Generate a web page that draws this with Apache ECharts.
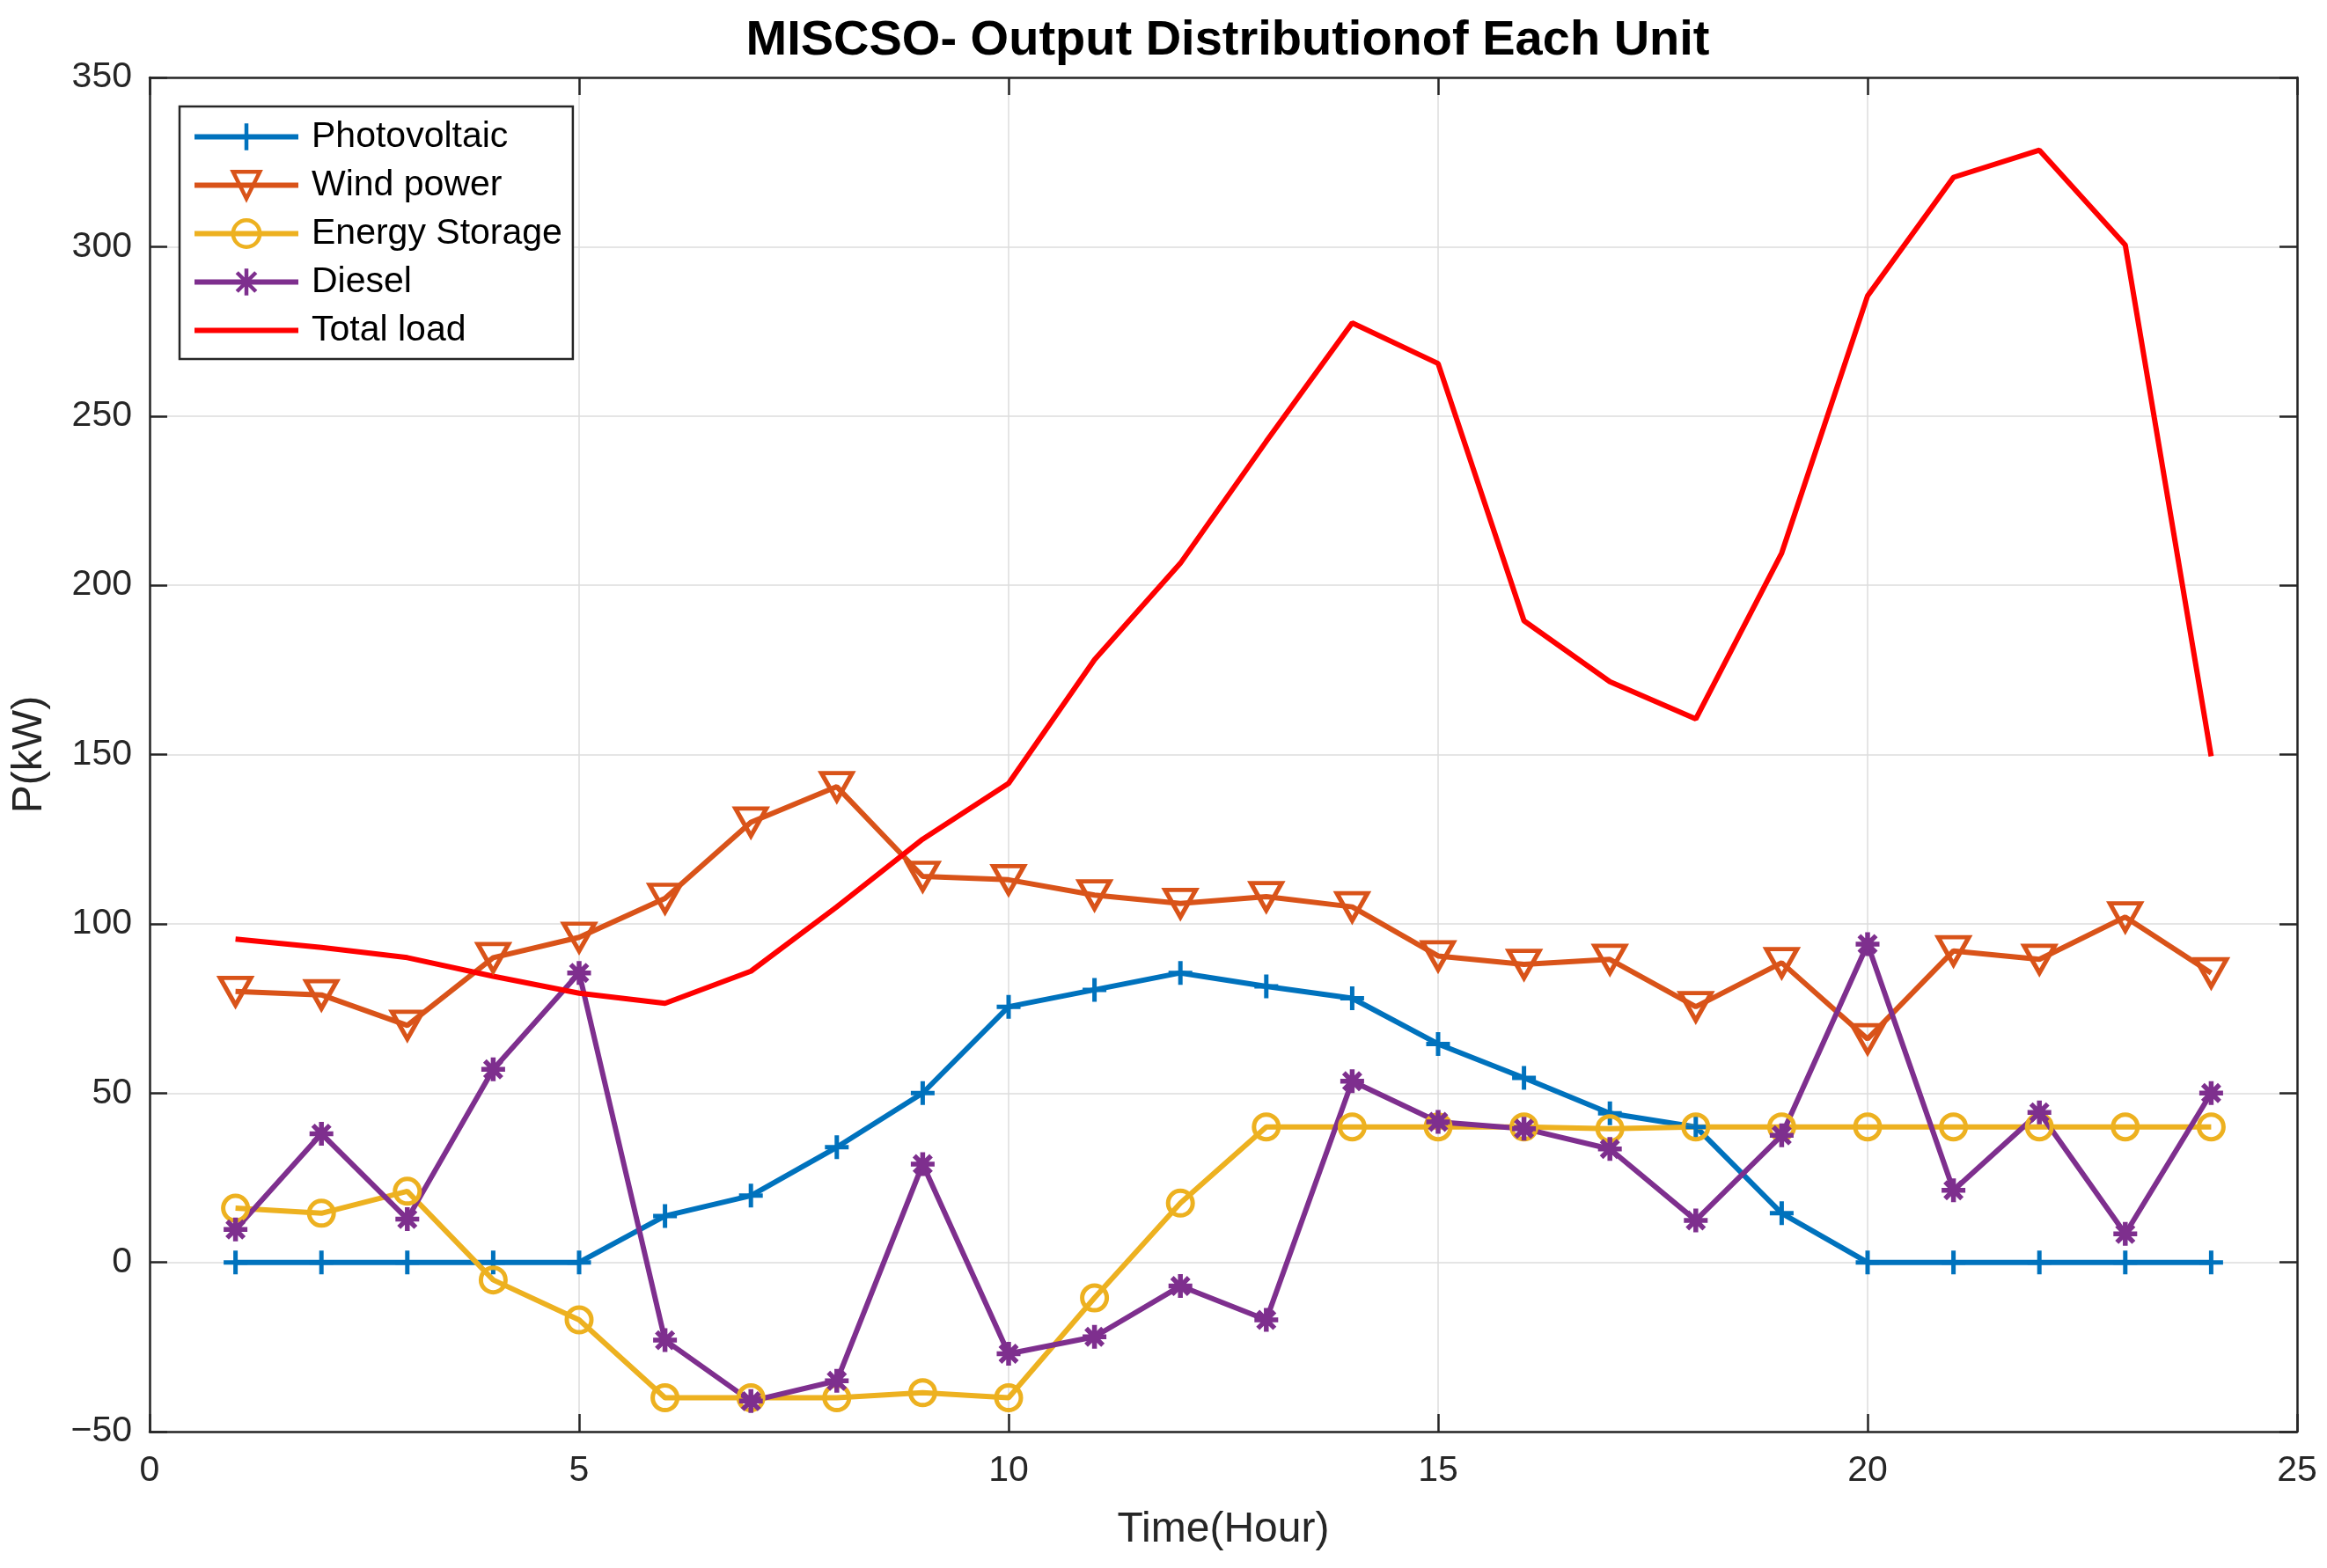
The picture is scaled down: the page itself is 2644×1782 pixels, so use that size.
<!DOCTYPE html>
<html>
<head>
<meta charset="utf-8">
<script src="https://cdn.jsdelivr.net/npm/echarts@6/dist/echarts.min.js"></script>
<style>html,body{margin:0;padding:0;background:#fff;}#c{width:2644px;height:1782px;}</style>
</head>
<body>
<div id="c"></div>
<script>
const hours = [1,2,3,4,5,6,7,8,9,10,11,12,13,14,15,16,17,18,19,20,21,22,23,24];
const photovoltaic = [0,0,0,0,0,13.7,19.7,34,50,75.5,80.5,85.5,81.5,78,64.5,54.5,44,40,14.5,0,0,0,0,0];
const windPower = [80,79,70,90,96,107.5,130,140.5,114,113,108.5,106,108,105,90.5,88,89.5,75.5,88.5,66,92,89.5,102,85.5];
const energyStorage = [16,14.5,21,-5.2,-17,-40,-40,-40,-38.5,-40,-10.5,17.5,40,40,40,40,39.5,40,40,40,40,40,40,40];
const diesel = [9.7,38,12.8,57,85.5,-23,-41,-35,29,-27,-22,-7,-17,53.5,41.5,39.5,33.5,12.4,37.5,94,21.3,44.3,8.4,50];
const totalLoad = [95.5,93,90,84.5,79.5,76.5,86,105,125,141.5,178,206.5,242.5,277.5,265.5,189.5,171.5,160.5,209.5,285.5,320.5,328.5,300.5,149.5];
const xTicks = [0,5,10,15,20,25];
const yTicks = [-50,0,50,100,150,200,250,300,350];

function pts(arr){ return hours.map((h,i)=>[h,arr[i]]); }

const FONT = 'Liberation Sans, Arial, Helvetica, sans-serif';
const AX = '#262626';
const plusPath = 'path://M0,-10L0,10M-10,0L10,0';
const starPath = 'path://M0,-10L0,10M-10,0L10,0M-7.07,-7.07L7.07,7.07M-7.07,7.07L7.07,-7.07';
const barIcon = 'path://M0,0L100,0L100,5L0,5Z';

const chart = echarts.init(document.getElementById('c'), null, {renderer:'canvas'});
const lw = 6;
const tickStyle = {show:true,inside:true,length:20,lineStyle:{color:AX,width:2.5}};
const option = {
  backgroundColor:'#fff',
  animation:false,
  title:{
    text:'MISCSO- Output Distributionof Each Unit',
    left:1390, top:14, textAlign:'center',
    textStyle:{fontFamily:FONT,fontWeight:'bold',fontSize:56,color:'#000'}
  },
  grid:{left:170,right:34,top:88,bottom:155,containLabel:false},
  legend:{
    orient:'vertical', left:204, top:121,
    backgroundColor:'#fff', borderColor:AX, borderWidth:2.5,
    padding:[14,12,12,14],
    itemWidth:118, itemHeight:38, itemGap:14,
    lineStyle:{width:6},
    itemStyle:{borderWidth:4.5},
    textStyle:{fontFamily:FONT,fontSize:41,color:'#000',lineHeight:38,padding:[0,0,0,10]},
    data:['Photovoltaic','Wind power','Energy Storage','Diesel',
      {name:'Total load',icon:barIcon}]
  },
  xAxis:[{
    type:'value', min:0, max:25, interval:5,
    name:'Time(Hour)', nameLocation:'middle', nameGap:88,
    nameTextStyle:{fontFamily:FONT,fontSize:48,color:AX},
    axisLine:{show:true,onZero:false,lineStyle:{color:AX,width:2.5}},
    axisTick:tickStyle,
    axisLabel:{fontFamily:FONT,fontSize:41,color:AX,margin:24,
      formatter:v=>xTicks.includes(v)?String(v):''},
    splitLine:{show:true,lineStyle:{color:'#dcdcdc',width:1.5}}
  },{
    type:'value', min:0, max:25, interval:5, position:'top',
    axisLine:{show:true,onZero:false,lineStyle:{color:AX,width:2.5}},
    axisTick:tickStyle,
    axisLabel:{show:false}, splitLine:{show:false}
  }],
  yAxis:[{
    type:'value', min:-50, max:350, interval:50,
    name:'P(kW)', nameLocation:'middle', nameGap:112, nameRotate:90,
    nameTextStyle:{fontFamily:FONT,fontSize:48,color:AX},
    axisLine:{show:true,onZero:false,lineStyle:{color:AX,width:2.5}},
    axisTick:tickStyle,
    axisLabel:{fontFamily:FONT,fontSize:41,color:AX,margin:20,
      formatter:v=>yTicks.includes(v)?(v<0?'\u2212'+Math.abs(v):String(v)):''},
    splitLine:{show:true,lineStyle:{color:'#dcdcdc',width:1.5}}
  },{
    type:'value', min:-50, max:350, interval:50, position:'right',
    axisLine:{show:true,onZero:false,lineStyle:{color:AX,width:2.5}},
    axisTick:tickStyle,
    axisLabel:{show:false}, splitLine:{show:false}
  }],
  series:[
    {name:'Photovoltaic',type:'line',data:pts(photovoltaic),
     symbol:plusPath,symbolSize:27,showAllSymbol:true,
     lineStyle:{color:'#0072BD',width:lw},
     itemStyle:{color:'#0072BD',borderColor:'#0072BD',borderWidth:5}},
    {name:'Wind power',type:'line',data:pts(windPower),
     symbol:'triangle',symbolRotate:180,symbolSize:[35,31],showAllSymbol:true,
     lineStyle:{color:'#D95319',width:lw},
     itemStyle:{color:'rgba(255,255,255,0)',borderColor:'#D95319',borderWidth:5}},
    {name:'Energy Storage',type:'line',data:pts(energyStorage),
     symbol:'circle',symbolSize:28,showAllSymbol:true,
     lineStyle:{color:'#EDB120',width:lw},
     itemStyle:{color:'rgba(255,255,255,0)',borderColor:'#EDB120',borderWidth:5}},
    {name:'Diesel',type:'line',data:pts(diesel),
     symbol:starPath,symbolSize:27,showAllSymbol:true,
     lineStyle:{color:'#7E2F8E',width:lw},
     itemStyle:{color:'#7E2F8E',borderColor:'#7E2F8E',borderWidth:5.5}},
    {name:'Total load',type:'line',data:pts(totalLoad),
     symbol:'none',
     lineStyle:{color:'#FF0000',width:lw},
     itemStyle:{color:'#FF0000'}}
  ]
};
chart.setOption(option);
</script>
</body>
</html>
